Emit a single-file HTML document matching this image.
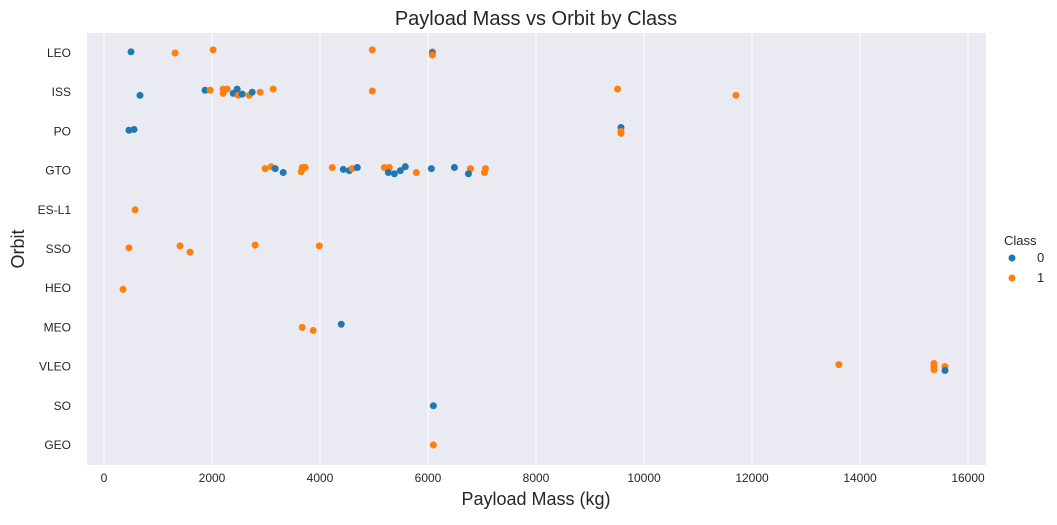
<!DOCTYPE html>
<html><head><meta charset="utf-8"><style>
body{margin:0;background:#fff;font-family:"Liberation Sans",Arial,sans-serif}
svg text{font-family:"Liberation Sans",Arial,sans-serif}
</style></head><body>
<svg id="c" width="1057" height="520" xmlns="http://www.w3.org/2000/svg">
<rect x="0" y="0" width="1057" height="520" fill="#fff"/>
<rect x="87" y="33" width="899" height="432" fill="#eaeaf2"/>
<g id="grid"></g>
<g id="ticks"></g>
<g id="pts"></g>
<text x="536" y="25" font-size="20" text-anchor="middle" fill="#262626">Payload Mass vs Orbit by Class</text>
<text x="536" y="505" font-size="18" text-anchor="middle" fill="#262626">Payload Mass (kg)</text>
<text x="24" y="249" font-size="18" text-anchor="middle" fill="#262626" transform="rotate(-90 24 249)">Orbit</text>
<g>
<text x="1004" y="245" font-size="13" fill="#262626">Class</text>
<circle cx="1012" cy="258" r="3.5" fill="#1f77b4"/>
<text x="1037" y="262" font-size="13" fill="#262626">0</text>
<circle cx="1012" cy="278" r="3.5" fill="#ff7f0e"/>
<text x="1037" y="282" font-size="13" fill="#262626">1</text>
</g>
</svg>
<script>
const orbits=["LEO","ISS","PO","GTO","ES-L1","SSO","HEO","MEO","VLEO","SO","GEO"];
const xTicks=[0,2000,4000,6000,8000,10000,12000,14000,16000];
const ptOrbit=["LEO","LEO","LEO","LEO","LEO","LEO","LEO",
"ISS","ISS","ISS","ISS","ISS","ISS","ISS","ISS","ISS","ISS","ISS","ISS","ISS","ISS","ISS","ISS","ISS",
"PO","PO","PO","PO","PO",
"GTO","GTO","GTO","GTO","GTO","GTO","GTO","GTO","GTO","GTO","GTO","GTO","GTO","GTO","GTO","GTO","GTO","GTO","GTO","GTO","GTO","GTO","GTO","GTO","GTO","GTO",
"ES-L1","SSO","SSO","SSO","SSO","SSO","HEO","MEO","MEO","MEO",
"VLEO","VLEO","VLEO","VLEO","VLEO","VLEO","SO","GEO"];
const ptMass=[500,1316,2021,4969,6081,6081,6081,
667,1872,1965,2206,2206,2280,2466,2392,2484,2559,2688,2744,2892,3133,4969,9511,11703,
463,556,9574,9574,9574,
2985,3096,3170,3319,3671,3726,3652,4227,4431,4542,4598,4690,4690,5191,5284,5265,5377,5488,5580,5784,6062,6489,6786,6749,7064,7045,
575,463,1409,1594,2800,3986,352,3671,3875,4394,
13608,15370,15370,15370,15574,15574,6100,6100];
const ptClass=[0,1,1,1,1,0,1,
0,0,1,1,1,1,0,0,1,0,1,0,1,1,1,1,1,
0,0,0,1,1,
1,1,0,0,1,1,1,1,0,0,1,1,0,1,1,0,0,0,0,1,0,0,1,0,1,1,
1,1,1,1,1,1,1,1,1,0,
1,1,1,1,1,0,0,1];
const ptJitter=[-0.03,0,-0.08,-0.08,-0.03,0,0.05,
0.08,-0.05,-0.05,-0.08,0.03,-0.08,-0.08,0.03,0.08,0.05,0.08,0,0,-0.08,-0.03,-0.08,0.08,
-0.03,-0.05,-0.1,0,0.05,
-0.05,-0.1,-0.05,0.05,-0.08,-0.08,0.03,-0.08,-0.03,0,-0.05,-0.08,-0.08,-0.08,-0.08,0.05,0.08,0,-0.1,0.05,-0.05,-0.08,-0.05,0.08,-0.05,0.05,
0,-0.03,-0.08,0.08,-0.1,-0.08,0.03,0,0.08,-0.08,
-0.05,-0.08,0,0.08,0,0.1,0,0];
const svg=document.getElementById('c'),NS="http://www.w3.org/2000/svg";
const xS=v=>104+v*0.054;
const yS=(o,j)=>53+(orbits.indexOf(o)+j)*39.2;
const grid=document.getElementById('grid'),ticks=document.getElementById('ticks'),pts=document.getElementById('pts');
function mk(tag,at,parent){const e=document.createElementNS(NS,tag);for(const k in at)e.setAttribute(k,at[k]);parent.appendChild(e);return e;}
xTicks.forEach(t=>{
 const l=mk('line',{x1:xS(t),x2:xS(t),y1:33,y2:465,stroke:'#fff','stroke-width':1},grid);
 
 
 const tx=mk('text',{x:xS(t),y:482,'font-size':12,'text-anchor':'middle',fill:'#262626'},ticks);
 tx.textContent=t;
 
 
});
orbits.forEach(o=>{
 const tx=mk('text',{x:71,y:yS(o,0)+4,'font-size':12,'text-anchor':'end',fill:'#262626'},ticks);
 tx.textContent=o;
 
 
});
ptMass.forEach((m,i)=>{
 const c=mk('circle',{cx:xS(m),cy:yS(ptOrbit[i],ptJitter[i]),r:3.5,fill:ptClass[i]?'#ff7f0e':'#1f77b4'},pts);
 
 
});
</script>
</body></html>
